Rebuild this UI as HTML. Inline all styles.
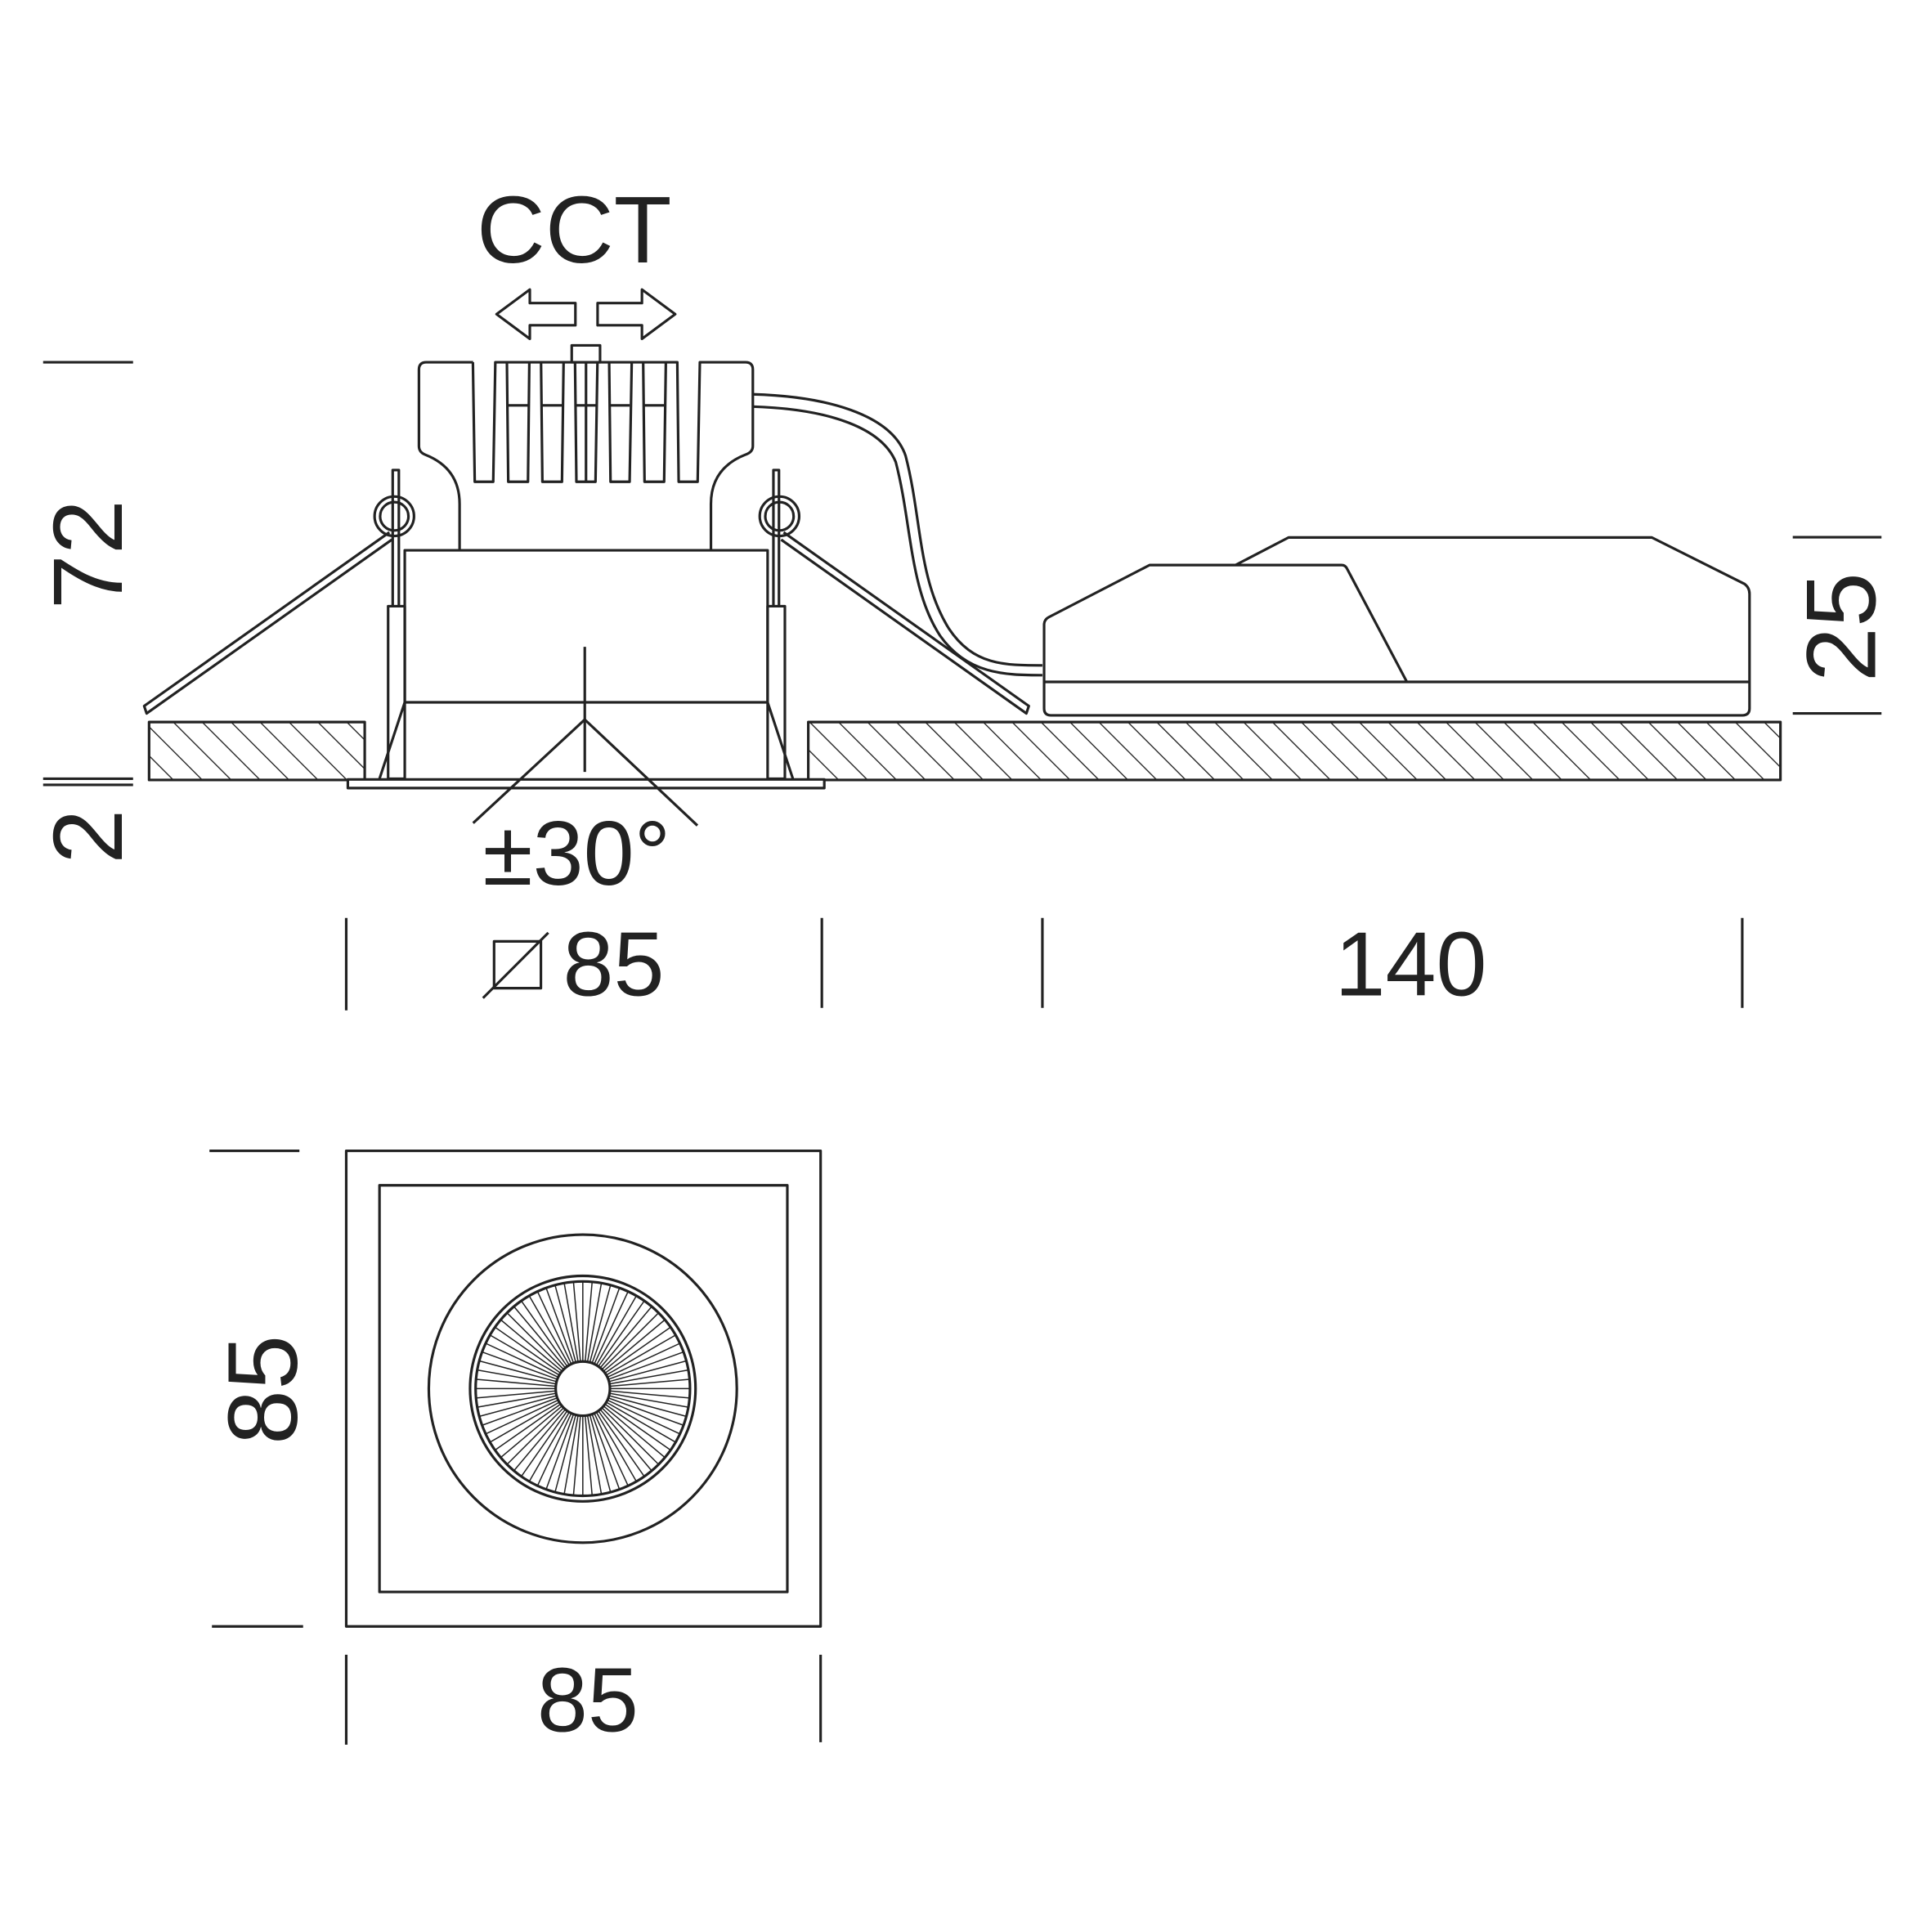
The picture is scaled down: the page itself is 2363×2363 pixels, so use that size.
<!DOCTYPE html>
<html><head><meta charset="utf-8"><style>html,body{margin:0;padding:0;background:#fff}svg{display:block}</style></head>
<body>
<svg width="2363" height="2363" viewBox="0 0 1568 1568" xmlns="http://www.w3.org/2000/svg" xmlns:xlink="http://www.w3.org/1999/xlink">
<defs>
<pattern id="h" patternUnits="userSpaceOnUse" width="16.6" height="16.6" patternTransform="rotate(-45)">
<line x1="0" y1="0" x2="0" y2="16.6" stroke="#222" stroke-width="1.8"/>
</pattern>
<g id="r9" stroke="#222" stroke-width="1">
<line x1="495" y1="1127" x2="560" y2="1127"/>
<line x1="495" y1="1127" x2="560" y2="1127" transform="rotate(5 473 1127)"/>
<line x1="495" y1="1127" x2="560" y2="1127" transform="rotate(10 473 1127)"/>
<line x1="495" y1="1127" x2="560" y2="1127" transform="rotate(15 473 1127)"/>
<line x1="495" y1="1127" x2="560" y2="1127" transform="rotate(20 473 1127)"/>
<line x1="495" y1="1127" x2="560" y2="1127" transform="rotate(25 473 1127)"/>
<line x1="495" y1="1127" x2="560" y2="1127" transform="rotate(30 473 1127)"/>
<line x1="495" y1="1127" x2="560" y2="1127" transform="rotate(35 473 1127)"/>
<line x1="495" y1="1127" x2="560" y2="1127" transform="rotate(40 473 1127)"/>
</g>
</defs>
<g fill="none" stroke="#222" stroke-width="2.1" stroke-linejoin="round">
<line x1="35" y1="294" x2="108" y2="294"/>
<line x1="35" y1="632" x2="108" y2="632"/>
<line x1="35" y1="637" x2="108" y2="637"/>
<line x1="1455" y1="436" x2="1527" y2="436"/>
<line x1="1455" y1="579" x2="1527" y2="579"/>
<line x1="281" y1="745" x2="281" y2="820"/>
<line x1="667" y1="745" x2="667" y2="818"/>
<line x1="846" y1="745" x2="846" y2="818"/>
<line x1="1414" y1="745" x2="1414" y2="818"/>
<rect x="401" y="764" width="38" height="38"/>
<line x1="392" y1="810" x2="445" y2="757"/>
<path d="M403,255 L430,235 L430,246 L467,246 L467,264 L430,264 L430,275 Z"/>
<path d="M548,255 L521,235 L521,246 L485,246 L485,264 L521,264 L521,275 Z"/>
<rect x="121" y="586" width="175" height="47" fill="url(#h)"/>
<rect x="656" y="586" width="789" height="47" fill="url(#h)"/>
<rect x="282.3" y="632.6" width="386.7" height="7" fill="#fff"/>
<path d="M384,294 L346,294 Q340,294 340,300 L340,362 Q340,367 345,369 Q373,380 373,409 L373,446.6 M577,446.6 L577,409 Q577,380 605,369 Q611,367 611,362 L611,300 Q611,294 605,294 L568,294 L566.2,391 L550.8,391 L549.7,294 L402,294 L400.3,391 L385.3,391 L383.8,294"/>
<path d="M411.4,294 L412.5,391 L428.5,391 L429.6,294 M439.1,294 L440.2,391 L456.1,391 L457.4,294 M466.7,294 L467.8,391 L483.3,391 L484.9,294 M494.4,294 L495.5,391 L511,391 L512.7,294 M522,294 L523.1,391 L539,391 L540.4,294 M475.6,294 L475.6,391"/>
<path d="M412,329 L429,329 M440,329 L456,329 M467,329 L484,329 M495,329 L511,329 M523,329 L540,329"/>
<rect x="464" y="280.3" width="23" height="13.7" fill="#fff"/>
<rect x="328.5" y="446.6" width="294.5" height="123.4"/>
<path d="M328.5,570 L307.8,632.6 M623,570 L643.7,632.6"/>
<rect x="315" y="492" width="13.5" height="140"/>
<rect x="623" y="492" width="14" height="140"/>
<rect x="318.7" y="381.5" width="5" height="110.5" fill="#fff"/>
<rect x="627.7" y="381.5" width="4.5" height="110.5" fill="#fff"/>
<circle cx="320" cy="419" r="16"/>
<circle cx="320" cy="419" r="11.5"/>
<circle cx="632.6" cy="419" r="16"/>
<circle cx="632.6" cy="419" r="11.5"/>
<path d="M316,432 L117,573 L119,579 L318,438"/>
<path d="M636,432 L835,573 L833,579 L634,438"/>
<line x1="474.6" y1="525" x2="474.6" y2="626.5"/>
<line x1="474.6" y1="584" x2="384" y2="668"/>
<line x1="474.6" y1="584" x2="566" y2="670"/>
<path d="M611,320 C680,322 725,340 735,370 C748,420 745,470 770,510 C790,540 815,540 846,540"/>
<path d="M611,330 C675,332 716,348 727,375 C740,425 738,478 763,516 C785,547 815,548 846,548"/>
<path d="M1002.7,458.6 L1045.8,436.2 L1340.6,436.2 L1416,474 Q1419.9,477 1419.9,482 L1419.9,575 Q1419.9,580.6 1414,580.6 L853,580.6 Q847.4,580.6 847.4,575 L847.4,507 Q847.4,503 851,501 L933,458.6 L1089,458.6 Q1092,458.6 1093.5,462 L1141.8,553.4" fill="#fff"/>
<line x1="847.4" y1="553.4" x2="1419.9" y2="553.4"/>
<line x1="170" y1="934" x2="243" y2="934"/>
<line x1="172" y1="1320" x2="246" y2="1320"/>
<line x1="281" y1="1343" x2="281" y2="1416"/>
<line x1="666" y1="1343" x2="666" y2="1414"/>
<rect x="281" y="934" width="385" height="386"/>
<rect x="308" y="962" width="331" height="330"/>
<circle cx="473" cy="1127" r="125"/>
<circle cx="473" cy="1127" r="91.5"/>
<circle cx="473" cy="1127" r="87"/>
<circle cx="473" cy="1127" r="22"/>
</g>
<use xlink:href="#r9" href="#r9"/>
<use xlink:href="#r9" href="#r9" transform="rotate(45 473 1127)"/>
<use xlink:href="#r9" href="#r9" transform="rotate(90 473 1127)"/>
<use xlink:href="#r9" href="#r9" transform="rotate(135 473 1127)"/>
<use xlink:href="#r9" href="#r9" transform="rotate(180 473 1127)"/>
<use xlink:href="#r9" href="#r9" transform="rotate(225 473 1127)"/>
<use xlink:href="#r9" href="#r9" transform="rotate(270 473 1127)"/>
<use xlink:href="#r9" href="#r9" transform="rotate(315 473 1127)"/>
<g font-family="Liberation Sans, sans-serif" fill="#222">
<text x="466" y="213" font-size="77" text-anchor="middle">CCT</text>
<text x="468" y="718" font-size="74" text-anchor="middle">±30°</text>
<text x="498" y="808" font-size="74" text-anchor="middle">85</text>
<text x="1145" y="808" font-size="74" text-anchor="middle">140</text>
<text x="477" y="1405" font-size="74" text-anchor="middle">85</text>
<text transform="translate(99,450) rotate(-90)" font-size="80" text-anchor="middle">72</text>
<text transform="translate(99,679) rotate(-90)" font-size="80" text-anchor="middle">2</text>
<text transform="translate(1522,509) rotate(-90)" font-size="80" text-anchor="middle">25</text>
<text transform="translate(241,1128) rotate(-90)" font-size="80" text-anchor="middle">85</text>
</g>
</svg>
</body></html>
